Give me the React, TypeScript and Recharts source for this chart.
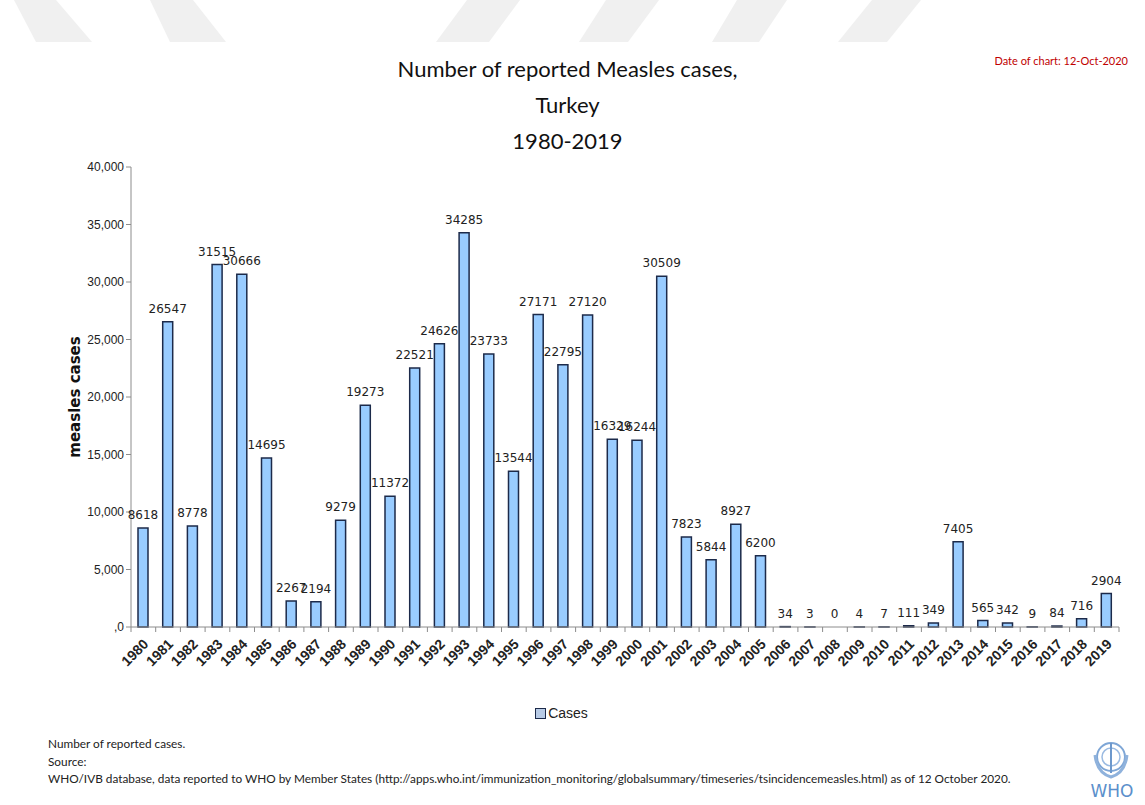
import React from "react";
import { Bar, BarChart, LabelList, Legend, Rectangle, XAxis, YAxis } from "recharts";

// measles cases, Turkey, 1980-2019 (WHO/IVB)
const years = [
  "1980", "1981", "1982", "1983", "1984", "1985", "1986", "1987", "1988", "1989",
  "1990", "1991", "1992", "1993", "1994", "1995", "1996", "1997", "1998", "1999",
  "2000", "2001", "2002", "2003", "2004", "2005", "2006", "2007", "2008", "2009",
  "2010", "2011", "2012", "2013", "2014", "2015", "2016", "2017", "2018", "2019"
];
const cases = [
  8618, 26547, 8778, 31515, 30666, 14695, 2267, 2194, 9279, 19273,
  11372, 22521, 24626, 34285, 23733, 13544, 27171, 22795, 27120, 16329,
  16244, 30509, 7823, 5844, 8927, 6200, 34, 3, 0, 4,
  7, 111, 349, 7405, 565, 342, 9, 84, 716, 2904
];
const yTicks = [0, 5000, 10000, 15000, 20000, 25000, 30000, 35000, 40000];

const data = years.map((year, i) => ({ year, cases: cases[i] }));

const BAR_FILL = "#99ccff";
const BAR_STROKE = "#1c2a4a";
const AXIS = "#8c8c8c";

const W = 1145;
const H = 805;
const plotLeft = 131;
const plotRight = 1119;
const band = (plotRight - plotLeft) / years.length;

function YearTick({ x, y, payload, index }: any) {
  const last = index === years.length - 1;
  return (
    <g>
      <line x1={x - band / 2} x2={x - band / 2} y1={y} y2={y + 5} stroke={AXIS} />
      {last && <line x1={x + band / 2} x2={x + band / 2} y1={y} y2={y + 5} stroke={AXIS} />}
      <text
        x={x + 6}
        y={y + 18}
        transform={`rotate(-45 ${x + 6} ${y + 18})`}
        textAnchor="end"
        fontFamily="Liberation Sans, Arial, sans-serif"
        fontWeight="bold"
        fontSize={14}
        fill="#222"
      >
        {payload.value}
      </text>
    </g>
  );
}

function YTitle({ viewBox }: any) {
  const cx = viewBox.x + viewBox.width - 56;
  const cy = viewBox.y + viewBox.height / 2;
  return (
    <text
      x={cx}
      y={cy}
      transform={`rotate(-90 ${cx} ${cy})`}
      textAnchor="middle"
      dominantBaseline="central"
      fontFamily="DejaVu Sans, Verdana, sans-serif"
      fontWeight="bold"
      fontSize={15}
      fill="#111"
    >
      measles cases
    </text>
  );
}

// zero-value years keep their label but draw no bar
function CaseBar(props: any) {
  if (props.payload && props.payload.cases === 0) return <g />;
  return <Rectangle {...props} />;
}

function LegendBox({ payload }: any) {
  return (
    <div style={{ display: "flex", justifyContent: "center", alignItems: "center", height: 20, paddingRight: 6 }}>
      {(payload || []).map((p: any) => (
        <div key={p.value} style={{ display: "flex", alignItems: "center" }}>
          <span
            style={{
              width: 9,
              height: 9,
              background: "#b8cbe6",
              border: `1px solid ${BAR_STROKE}`,
              marginRight: 2
            }}
          />
          <span style={{ fontFamily: "Liberation Sans, Arial, sans-serif", fontSize: 14, color: "#222" }}>{p.value}</span>
        </div>
      ))}
    </div>
  );
}

function Watermark() {
  const shapes = [
    "14,0 56,0 92,42 36,42",
    "150,0 193,0 226,42 170,42",
    "467,0 520,0 489,42 436,42",
    "606,0 659,0 628,42 579,42",
    "737,0 787,0 759,42 712,42",
    "872,0 921,0 887,42 838,42"
  ];
  return (
    <svg width={W} height={45} style={{ position: "absolute", left: 0, top: 0 }}>
      {shapes.map((s) => (
        <polygon key={s} points={s} fill="#f0f0f0" />
      ))}
    </svg>
  );
}

function WhoLogo() {
  return (
    <svg width={50} height={70} style={{ position: "absolute", left: 1087, top: 733 }}>
      <circle cx={24} cy={24} r={14} fill="none" stroke="#7ea6d6" strokeWidth={2} />
      <circle cx={24} cy={24} r={9} fill="none" stroke="#9bbbe2" strokeWidth={1.5} />
      <line x1={24} y1={10} x2={24} y2={40} stroke="#6d98cc" strokeWidth={2} />
      <path d="M8 22 Q10 40 24 44 Q38 40 40 22" fill="none" stroke="#8fb2dc" strokeWidth={3} />
      <text x={25} y={64} textAnchor="middle" fontFamily="DejaVu Sans, sans-serif" fontSize={17} fill="#5b8fcb">
        WHO
      </text>
    </svg>
  );
}

export default function App() {
  const sans = "Lato, 'Open Sans', sans-serif";
  return (
    <div style={{ position: "absolute", left: 0, top: 0, width: W, height: H, background: "#fff", overflow: "hidden" }}>
      <Watermark />
      <div
        style={{
          position: "absolute",
          top: 54,
          right: 17,
          fontFamily: sans,
          fontSize: 11,
          color: "#c00000"
        }}
      >
        Date of chart: 12-Oct-2020
      </div>
      <div
        style={{
          position: "absolute",
          top: 51,
          left: 0,
          width: W - 10,
          textAlign: "center",
          fontFamily: sans,
          fontSize: 22,
          lineHeight: "36px",
          color: "#111"
        }}
      >
        Number of reported Measles cases,
        <br />
        Turkey
        <br />
        1980-2019
      </div>

      <div style={{ position: "absolute", left: 0, top: 0 }}>
        <BarChart
          width={W}
          height={737}
          data={data}
          margin={{ top: 167, right: W - plotRight, left: 10, bottom: 14 }}
          barCategoryGap={0}
        >
          <YAxis
            width={plotLeft - 10}
            domain={[0, 40000]}
            ticks={yTicks}
            interval={0}
            tickFormatter={(v: number) => (v === 0 ? ",0" : v.toLocaleString("en-US"))}
            axisLine={{ stroke: AXIS }}
            tickLine={{ stroke: AXIS }}
            tickSize={5}
            tick={{ fill: "#222", fontSize: 12, fontFamily: "Liberation Sans, Arial, sans-serif" }}
            label={<YTitle />}
          />
          <XAxis
            dataKey="year"
            interval={0}
            height={76}
            tickSize={0}
            tickMargin={0}
            tickLine={false}
            axisLine={{ stroke: AXIS }}
            tick={<YearTick />}
          />
          <Legend verticalAlign="bottom" height={20} content={<LegendBox />} />
          <Bar
            dataKey="cases"
            name="Cases"
            fill={BAR_FILL}
            stroke={BAR_STROKE}
            strokeWidth={1.5}
            barSize={10}
            minPointSize={(v: number) => (v === 0 ? 0.01 : 0)}
            shape={<CaseBar />}
            isAnimationActive={false}
          >
            <LabelList
              dataKey="cases"
              position="top"
              offset={9}
              fill="#222"
              fontSize={12}
              fontFamily="DejaVu Sans, Tahoma, sans-serif"
              formatter={(v: any) => String(v)}
            />
          </Bar>
        </BarChart>
      </div>

      <div
        style={{
          position: "absolute",
          left: 48,
          top: 735,
          fontFamily: sans,
          fontSize: 11.8,
          lineHeight: "17.5px",
          color: "#222",
          whiteSpace: "nowrap"
        }}
      >
        Number of reported cases.
        <br />
        Source:
        <br />
        WHO/IVB database, data reported to WHO by Member States
        (http://apps.who.int/immunization_monitoring/globalsummary/timeseries/tsincidencemeasles.html) as of 12 October 2020.
      </div>
      <WhoLogo />
    </div>
  );
}
